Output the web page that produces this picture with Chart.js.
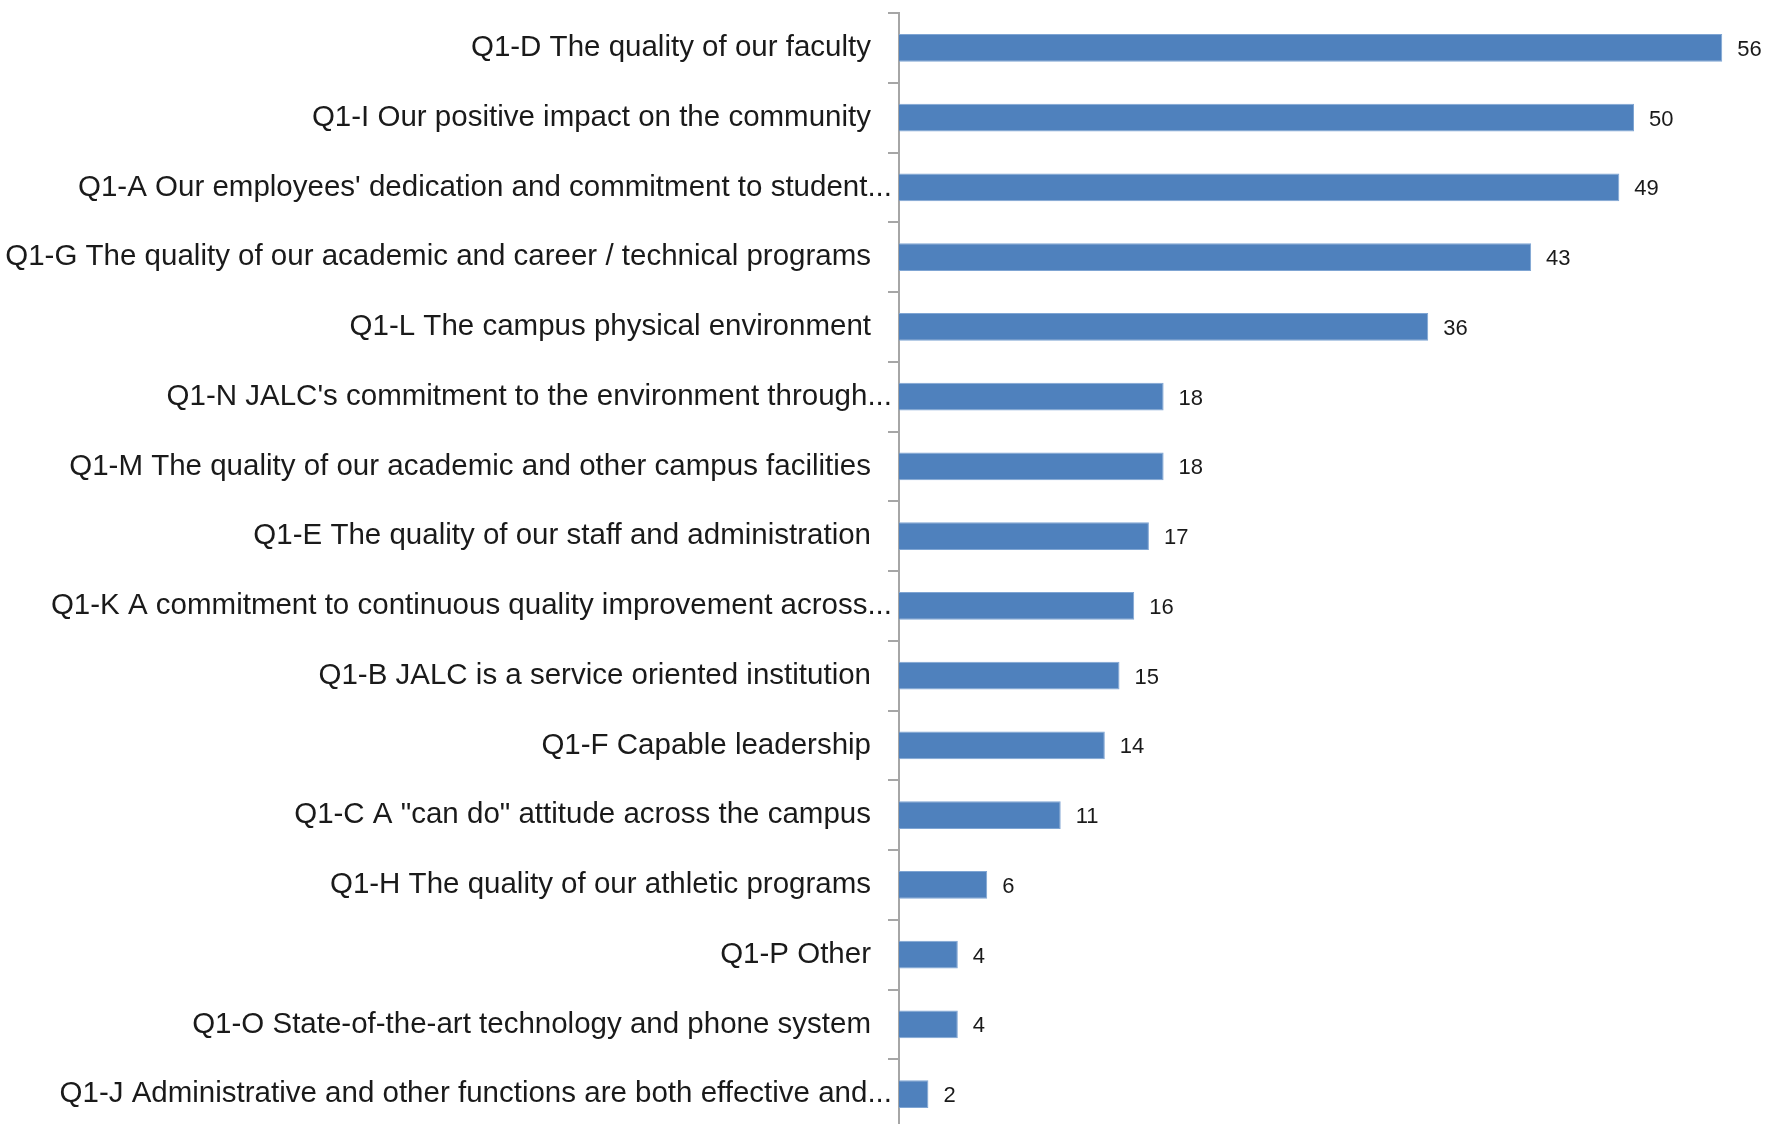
<!DOCTYPE html>
<html>
<head>
<meta charset="utf-8">
<script src="https://cdn.jsdelivr.net/npm/chart.js@4/dist/chart.umd.min.js"></script>
<style>
  html, body { margin: 0; padding: 0; background: #fff; overflow: hidden; }
  #wrap { width: 1770px; height: 1140px; position: relative; }
</style>
</head>
<body>
<div id="wrap"><canvas id="grafico"></canvas></div>
<script>
const categorias = [
    'Q1-D The quality of our faculty',
    'Q1-I Our positive impact on the community',
    "Q1-A Our employees' dedication and commitment to student...",
    'Q1-G The quality of our academic and career / technical programs',
    'Q1-L The campus physical environment',
    "Q1-N JALC's commitment to the environment through...",
    'Q1-M The quality of our academic and other campus facilities',
    'Q1-E The quality of our staff and administration',
    'Q1-K A commitment to continuous quality improvement across...',
    'Q1-B JALC is a service oriented institution',
    'Q1-F Capable leadership',
    'Q1-C A "can do" attitude across the campus',
    'Q1-H The quality of our athletic programs',
    'Q1-P Other',
    'Q1-O State-of-the-art technology and phone system',
    'Q1-J Administrative and other functions are both effective and...'
];
const totais = [56, 50, 49, 43, 36, 18, 18, 17, 16, 15, 14, 11, 6, 4, 4, 2];

const fonteRotulo = "29.5px 'Liberation Sans Narrow', 'Liberation Sans', sans-serif";
const fonteValor = "22px 'Liberation Sans', sans-serif";

// rótulos das categorias (os cortados com "..." encostam mais no eixo, como no Excel)
const rotulosCategoria = {
    id: 'rotulosCategoria',
    afterDraw(chart) {
        const ctx = chart.ctx;
        const y = chart.scales.y;
        ctx.save();
        ctx.font = fonteRotulo;
        ctx.fillStyle = '#1a1a1a';
        ctx.textBaseline = 'middle';
        ctx.textAlign = 'right';
        categorias.forEach((txt, i) => {
            const recuo = txt.endsWith('...') ? 7 : 28;
            ctx.fillText(txt, y.right - recuo, y.getPixelForTick(i));
        });
        ctx.restore();
    }
};

const rotulosValor = {
    id: 'rotulosValor',
    afterDatasetsDraw(chart) {
        const ctx = chart.ctx;
        const meta = chart.getDatasetMeta(0);
        ctx.save();
        ctx.font = fonteValor;
        ctx.fillStyle = '#1a1a1a';
        ctx.textBaseline = 'middle';
        ctx.textAlign = 'left';
        meta.data.forEach((bar, i) => {
            ctx.fillText(String(totais[i]), bar.x + 15, bar.y + 2);
        });
        ctx.restore();
    }
};

document.addEventListener('DOMContentLoaded', () => {
    const ctx = document.getElementById('grafico').getContext('2d');
    new Chart(ctx, {
        type: 'bar',
        data: {
            labels: categorias,
            datasets: [{
                data: totais,
                backgroundColor: '#4f81bd',
                borderColor: '#7fa5d3',
                borderWidth: 1,
                barPercentage: 0.4,
                categoryPercentage: 1
            }]
        },
        options: {
            indexAxis: 'y',
            responsive: true,
            maintainAspectRatio: false,
            animation: false,
            layout: { padding: { top: 13, right: 0, bottom: 11, left: 0 } },
            plugins: {
                legend: { display: false },
                tooltip: { enabled: false }
            },
            scales: {
                x: {
                    display: false,
                    min: 0,
                    max: 59.25
                },
                y: {
                    afterFit(scale) { scale.width = 899; },
                    border: { display: true, color: '#a6a6a6', width: 2 },
                    grid: {
                        drawOnChartArea: false,
                        drawTicks: true,
                        tickLength: 11,
                        color: '#a6a6a6',
                        lineWidth: 2,
                        offset: true
                    },
                    ticks: { display: false }
                }
            }
        },
        plugins: [rotulosValor, rotulosCategoria]
    });
});
</script>
</body>
</html>
